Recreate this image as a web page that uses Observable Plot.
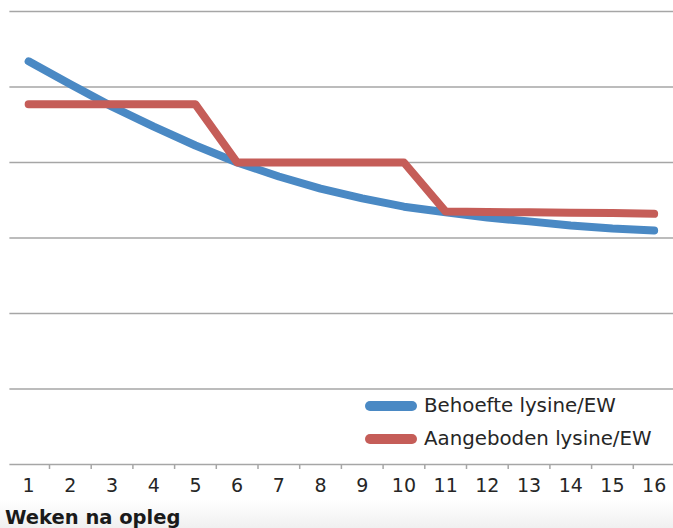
<!DOCTYPE html>
<html>
<head>
<meta charset="utf-8">
<script src="https://cdn.jsdelivr.net/npm/d3@7"></script>
<script src="https://cdn.jsdelivr.net/npm/@observablehq/plot@0.6"></script>
<style>
  html, body { margin: 0; padding: 0; }
  body { width: 673px; height: 528px; overflow: hidden; font-family: "DejaVu Sans", Verdana, sans-serif;
         background: linear-gradient(to bottom, #ffffff 0px, #ffffff 500px, #f0f0f0 528px); }
  #wrap { position: relative; width: 673px; height: 528px; }
  #chart svg { display: block; background: transparent; }
  .leg { position: absolute; left: 365px; display: flex; align-items: center; font-size: 19.8px; color: #262626; white-space: nowrap; }
  .sw { width: 52px; height: 10px; border-radius: 5px; margin-right: 7px; }
  #xlabel { position: absolute; left: 5px; top: 506px; font-size: 19.5px; font-weight: bold; color: #1a1a1a; }
</style>
</head>
<body>
<div id="wrap">
  <div id="chart"></div>
  <div id="legend"></div>
  <div id="xlabel">Weken na opleg</div>
</div>
<script>
const weeks = [1,2,3,4,5,6,7,8,9,10,11,12,13,14,15,16];
const behoefte = [10.68,10.07,9.48,8.95,8.45,8.0,7.63,7.31,7.05,6.83,6.68,6.54,6.44,6.33,6.25,6.20];
const aangeboden = [9.54,9.54,9.54,9.54,9.54,8.0,8.0,8.0,8.0,8.0,6.70,6.69,6.68,6.67,6.66,6.64];
const seriesNames = ["Behoefte lysine/EW", "Aangeboden lysine/EW"];
const seriesColors = ["#4a89c4", "#c55d58"];
const gridValues = [2,4,6,8,10,12];
const xLabel = "Weken na opleg";

const rows = [];
weeks.forEach((w,i) => {
  rows.push({week: w, value: behoefte[i], series: seriesNames[0]});
  rows.push({week: w, value: aangeboden[i], series: seriesNames[1]});
});
const boundaries = weeks.slice(0, -1).map(w => w + 0.5);

const chart = Plot.plot({
  width: 673,
  height: 500,
  marginTop: 11,
  marginBottom: 36,
  marginLeft: 7,
  marginRight: 0,
  style: {background: "transparent", fontFamily: "DejaVu Sans, Verdana, sans-serif"},
  x: {type: "linear", domain: [0.5, 16.5], range: [7.3, 674.5], label: null},
  y: {domain: [0, 12], axis: null},
  color: {domain: seriesNames, range: seriesColors},
  marks: [
    Plot.ruleY(gridValues, {x1: 0.55, x2: 16.5, stroke: "#a6a6a6", strokeWidth: 1.5}),
    Plot.ruleY([0], {x1: 0.55, x2: 16.5, stroke: "#a6a6a6", strokeWidth: 1.5}),
    Plot.axisX(boundaries, {tickSize: 5, tickFormat: () => "", stroke: "#a6a6a6", strokeWidth: 1.5, label: null}),
    Plot.axisX(weeks, {tickSize: 0, tickPadding: 14, fontSize: 19, fill: "#262626", label: null}),
    Plot.line(rows, {x: "week", y: "value", z: "series", stroke: "series", strokeWidth: 8, strokeLinecap: "round", strokeLinejoin: "round"})
  ]
});
document.getElementById("chart").appendChild(chart);

const legend = document.getElementById("legend");
const legTops = [394, 427];
seriesNames.forEach((name, i) => {
  const d = document.createElement("div");
  d.className = "leg";
  d.style.top = legTops[i] + "px";
  d.innerHTML = `<div class="sw" style="background:${seriesColors[i]}"></div><span>${name}</span>`;
  legend.appendChild(d);
});
</script>
</body>
</html>
